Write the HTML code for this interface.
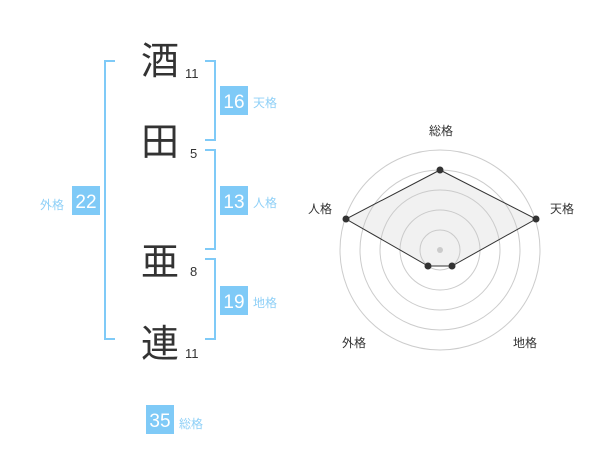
<!DOCTYPE html>
<html><head><meta charset="utf-8"><style>
html,body{margin:0;padding:0;background:#fff;width:600px;height:470px;overflow:hidden}
svg{display:block}
.k{font-family:"Liberation Sans","Noto Sans CJK JP",sans-serif}
</style></head><body>
<svg width="600" height="470" viewBox="0 0 600 470" class="k">
<!-- brackets -->
<g fill="none" stroke="#7fcaf7" stroke-width="2">
<polyline points="115,61 105,61 105,339 115,339"/>
<polyline points="205,61 215,61 215,140 205,140"/>
<polyline points="205,150 215,150 215,249 205,249"/>
<polyline points="205,259 215,259 215,339 205,339"/>
</g>
<!-- kanji -->
<g fill="#333" font-size="38" text-anchor="middle">
<text x="160" y="74">酒</text>
<text x="160" y="155">田</text>
<text x="160" y="275">亜</text>
<text x="160" y="357">連</text>
</g>
<g fill="#333" font-size="13">
<text x="185" y="78">11</text>
<text x="190" y="158">5</text>
<text x="190" y="276">8</text>
<text x="185" y="358">11</text>
</g>
<!-- boxes -->
<g fill="#7fcaf7">
<rect x="220" y="86" width="28" height="29"/>
<rect x="220" y="186" width="28" height="29"/>
<rect x="220" y="286" width="28" height="29"/>
<rect x="72" y="186" width="28" height="29"/>
<rect x="146" y="405" width="28" height="29"/>
</g>
<g fill="#fff" font-size="19" text-anchor="middle">
<text x="234" y="108">16</text>
<text x="234" y="208">13</text>
<text x="234" y="308">19</text>
<text x="86" y="208">22</text>
<text x="160" y="427">35</text>
</g>
<g fill="#8fd0f7" font-size="12">
<text x="253" y="107">天格</text>
<text x="253" y="207">人格</text>
<text x="253" y="307">地格</text>
<text x="40" y="209">外格</text>
<text x="179" y="428">総格</text>
</g>
<!-- radar -->
<g fill="none" stroke="#ccc" stroke-width="1">
<circle cx="440" cy="250" r="20"/>
<circle cx="440" cy="250" r="40"/>
<circle cx="440" cy="250" r="60"/>
<circle cx="440" cy="250" r="80"/>
<circle cx="440" cy="250" r="100"/>
</g>
<circle cx="440" cy="250" r="3" fill="#ccc"/>
<polygon points="440,170 536,219 452,266 428,266 346,219" fill="rgba(200,200,200,0.25)" stroke="#333" stroke-width="1"/>
<g fill="#333">
<circle cx="440" cy="170" r="3.5"/>
<circle cx="536" cy="219" r="3.5"/>
<circle cx="452" cy="266" r="3.5"/>
<circle cx="428" cy="266" r="3.5"/>
<circle cx="346" cy="219" r="3.5"/>
</g>
<g fill="#333" font-size="12" text-anchor="middle">
<text x="441" y="135">総格</text>
<text x="562" y="213">天格</text>
<text x="320" y="213">人格</text>
<text x="354" y="347">外格</text>
<text x="525" y="347">地格</text>
</g>
</svg>
</body></html>
